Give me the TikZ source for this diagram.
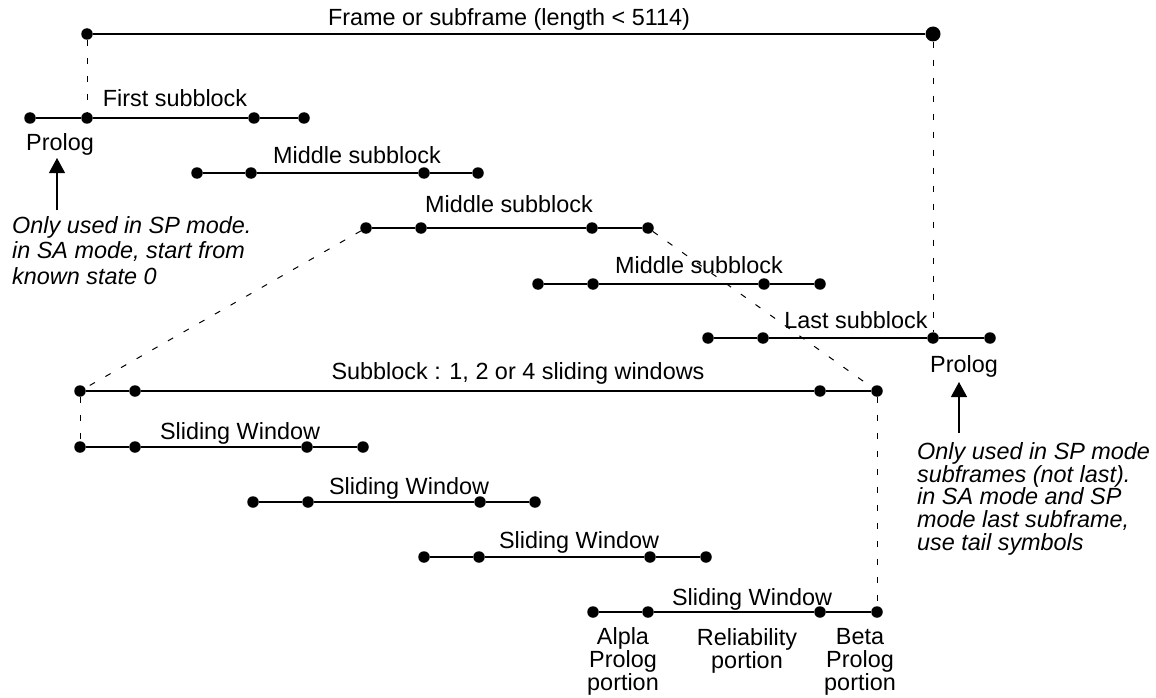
\documentclass[tikz,border=0pt]{standalone}
\usepackage{fontspec}
\setmainfont{Liberation Sans}
\usetikzlibrary{arrows.meta,positioning}
\tikzset{
  dot/.style   = {circle, fill, inner sep=0pt, minimum size=11.5pt},
  bigdot/.style= {circle, fill, inner sep=0pt, minimum size=15pt},
  seg/.style   = {line width=1.4pt},
  guide/.style = {line width=1pt, dash pattern=on 6pt off 12pt},
  lbl/.style   = {anchor=base, inner sep=0pt, align=center,
                  font=\fontsize{23.4}{22.6}\selectfont},
  note/.style  = {anchor=base west, inner sep=0pt, align=left,
                  font=\fontsize{23.4}{22.6}\selectfont\itshape},
  ar/.style    = {-{Triangle[length=15pt, width=16pt]}, line width=1.2pt}
}
\begin{document}
\begin{tikzpicture}[x=1pt, y=-1pt]
  \useasboundingbox (0,0) rectangle (1156,698);
  % frame
  \node[dot] (frA) at (87,34) {};
  \node[bigdot] (frB) at (933,34) {};
  \node[lbl] (frT) at (509,26) {Frame or subframe (length < 5114)};
  % subblocks
  \node[dot] (fsA) at (30,118) {};  \node[dot] (fsB) at (87,118) {};
  \node[dot] (fsC) at (254,118) {}; \node[dot] (fsD) at (304,118) {};
  \node[lbl] (fsT) at (175,107) {First subblock};
  \node[lbl] (proL) at (60,150) {Prolog};
  \node[dot] (maA) at (197,173) {}; \node[dot] (maB) at (251,173) {};
  \node[dot] (maC) at (424,173) {}; \node[dot] (maD) at (478,173) {};
  \node[lbl] (maT) at (357,163) {Middle subblock};
  \node[dot] (mbA) at (366,228) {}; \node[dot] (mbB) at (421,228) {};
  \node[dot] (mbC) at (592,228) {}; \node[dot] (mbD) at (648,228) {};
  \node[lbl] (mbT) at (509,212) {Middle subblock};
  \node[dot] (mcA) at (538,284) {}; \node[dot] (mcB) at (593,284) {};
  \node[dot] (mcC) at (764,284) {}; \node[dot] (mcD) at (820,284) {};
  \node[lbl] (mcT) at (699,273) {Middle subblock};
  \node[dot] (lsA) at (708,338) {}; \node[dot] (lsB) at (763,338) {};
  \node[dot] (lsC) at (933,338) {}; \node[dot] (lsD) at (990,338) {};
  \node[lbl] (lsT) at (856,328) {Last subblock};
  \node[lbl] (proR) at (964,372) {Prolog};
  % sliding windows
  \node[dot] (sbA) at (80,391) {};  \node[dot] (sbB) at (135,391) {};
  \node[dot] (sbC) at (820,391) {}; \node[dot] (sbD) at (877,391) {};
  \node[lbl] (sbT) at (518,379) {Subblock : 1, 2 or 4 sliding windows};
  \node[dot] (waA) at (80,447) {};  \node[dot] (waB) at (135,447) {};
  \node[dot] (waC) at (307,447) {}; \node[dot] (waD) at (363,447) {};
  \node[lbl] (waT) at (240,439) {Sliding Window};
  \node[dot] (wbA) at (253,502) {}; \node[dot] (wbB) at (308,502) {};
  \node[dot] (wbC) at (480,502) {}; \node[dot] (wbD) at (535,502) {};
  \node[lbl] (wbT) at (409,494) {Sliding Window};
  \node[dot] (wcA) at (424,557) {}; \node[dot] (wcB) at (479,557) {};
  \node[dot] (wcC) at (650,557) {}; \node[dot] (wcD) at (706,557) {};
  \node[lbl] (wcT) at (579,548) {Sliding Window};
  \node[dot] (wdA) at (593,612) {}; \node[dot] (wdB) at (648,612) {};
  \node[dot] (wdC) at (820,612) {}; \node[dot] (wdD) at (877,612) {};
  \node[lbl] (wdT) at (752,605) {Sliding Window};
  \node[lbl] (alT) at (623,690) {Alpla\\Prolog\\portion};
  \node[lbl] (reT) at (747,668) {Reliability\\portion};
  \node[lbl] (beT) at (860,690) {Beta\\Prolog\\portion};
  % notes
  \node[note, font=\fontsize{23.4}{25.5}\selectfont\itshape] (ntL) at (12,284)
    {Only used in SP mode.\\in SA mode, start from\\known state 0};
  \node[note] (ntR) at (917,550)
    {Only used in SP mode\\subframes (not last).\\in SA mode and SP\\mode last subframe,\\use tail symbols};
  \coordinate (tipL) at (57,158);  \coordinate (tailL) at (57,210);
  \coordinate (tipR) at (959,382); \coordinate (tailR) at (959,433);
  \draw[seg] (frA) -- (frB);
  \draw[seg] (fsA) -- (fsB) -- (fsC) -- (fsD);
  \draw[seg] (maA) -- (maB) -- (maC) -- (maD);
  \draw[seg] (mbA) -- (mbB) -- (mbC) -- (mbD);
  \draw[seg] (mcA) -- (mcB) -- (mcC) -- (mcD);
  \draw[seg] (lsA) -- (lsB) -- (lsC) -- (lsD);
  \draw[seg] (sbA) -- (sbB) -- (sbC) -- (sbD);
  \draw[seg] (waA) -- (waB) -- (waC) -- (waD);
  \draw[seg] (wbA) -- (wbB) -- (wbC) -- (wbD);
  \draw[seg] (wcA) -- (wcB) -- (wcC) -- (wcD);
  \draw[seg] (wdA) -- (wdB) -- (wdC) -- (wdD);
  \draw[guide] (frA) -- (fsB);
  \draw[guide] (frB) -- (lsC);
  \draw[guide] (mbA) -- (sbA);
  \draw[guide] (mbD) -- (sbD);
  \draw[guide] (sbA) -- (waA);
  \draw[guide] (sbD) -- (wdD);
  \draw[ar] (tailL) -- (tipL);
  \draw[ar] (tailR) -- (tipR);
\end{tikzpicture}
\end{document}
